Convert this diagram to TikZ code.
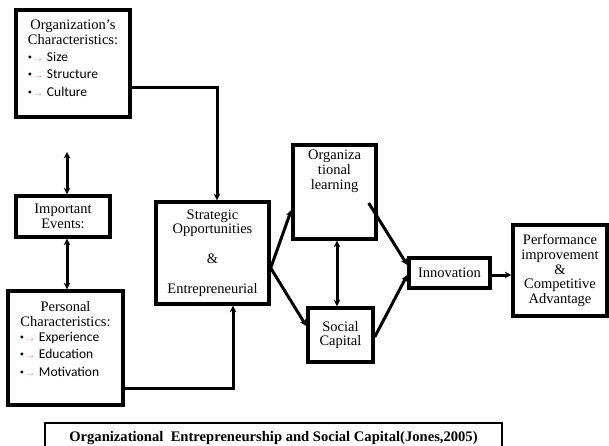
\documentclass[tikz,border=0pt]{standalone}
\usepackage{fontspec}
\setmainfont{Liberation Serif}
\setsansfont{Carlito}
\usepackage{xcolor}
\usetikzlibrary{arrows.meta,positioning,calc}
\newcommand{\bitem}[1]{{\rmfamily\large\textbullet}\hspace{2pt}{\color{magenta!60}$\scriptscriptstyle\rightarrow$}\hspace{5pt}#1}

\begin{document}
\begin{tikzpicture}[x=1pt, y=-1pt, >={Stealth[length=6.5pt,width=6.5pt]}, line width=3pt]

	\tikzset{
		tnode/.style = {rectangle, draw, line width=3.4pt, inner sep=0pt, align=center,
			font=\fontsize{14.5}{14.8}\selectfont},
		ttext/.style = {align=center, inner sep=0pt, font=\fontsize{14.5}{14.8}\selectfont},
		tlist/.style = {align=left, inner sep=0pt, font=\sffamily\fontsize{13.5}{17.5}\selectfont}
	}

	\clip (0,0) rectangle (609,446);

	% left column
	\node[tnode, minimum width=114, minimum height=107] (orgc) at (73,63.5) {};
	\node[ttext, anchor=north] (orgchead) at ([yshift=-10pt]orgc.north) {Organization’s\\Characteristics:};
	\node[tlist, anchor=north west] (orgclist) at ([xshift=12pt, yshift=-42pt]orgc.north west)
		{\bitem{Size}\\ \bitem{Structure}\\ \bitem{Culture}};

	\node[tnode, minimum width=94, minimum height=41] (events) at (63,216.5) {Important\\Events:};

	\node[tnode, minimum width=115, minimum height=114] (pers) at (65.5,348) {};
	\node[ttext, anchor=north] (pershead) at ([yshift=-11pt]pers.north) {Personal\\Characteristics:};
	\node[tlist, anchor=north west] (perslist) at ([xshift=12pt, yshift=-41pt]pers.north west)
		{\bitem{Experience}\\ \bitem{Education}\\ \bitem{Motivation}};

	% middle
	\node[tnode, minimum width=113, minimum height=102] (strat) at (212.5,253)
		{Strategic\\Opportunities\\[15pt]\&\\[15pt]Entrepreneurial};

	\node[tnode, minimum width=83, minimum height=94] (learn) at (334.5,192) {};
	\node[ttext, anchor=north] (learntext) at ([yshift=-5pt]learn.north) {Organiza\\tional\\learning};

	\node[tnode, minimum width=65, minimum height=54] (social) at (340.5,335) {Social\\Capital};

	% right
	\node[tnode, minimum width=81, minimum height=30] (innov) at (449.5,273) {Innovation};
	\node[tnode, minimum width=94, minimum height=91] (perf) at (560,270.5)
		{Performance\\improvement\\\&\\Competitive\\Advantage};

	% caption
	\node[draw, line width=1.4pt, minimum width=457, minimum height=30, inner sep=0pt,
		font=\bfseries\fontsize{14.6}{16}\selectfont] (caption) at (273.5,438)
		{\raisebox{3pt}{Organizational\ \ Entrepreneurship and Social Capital(Jones,2005)}};

	\coordinate (topfree) at (67,152);

	\draw[->] ([yshift=-24.5pt]orgc.east) -| ([xshift=4.5pt]strat.north);
	\draw[<->] (topfree) -- (topfree |- events.north);
	\draw[<->] ([xshift=4pt]events.south) -- ([xshift=4pt]events.south |- pers.north);
	\draw[->] ([yshift=-40pt]pers.east) -| ([xshift=20.5pt]strat.south);

	\draw[->] ([yshift=-15pt]strat.east) -- ([yshift=-18pt]learn.west);
	\draw[->] ([yshift=-15pt]strat.east) -- ([yshift=9pt]social.west);
	\draw[<->] ([xshift=2.5pt]learn.south) -- ([xshift=2.5pt]learn.south |- social.north);
	\draw[->] ([xshift=-9pt, yshift=-11pt]learn.east) -- ([yshift=8pt]innov.west);
	\draw[->] ([yshift=-2pt]social.east) -- ([yshift=-2pt]innov.west);
	\draw[->] ([yshift=-2pt]innov.east) -- ([yshift=-2pt]innov.east -| perf.west);

\end{tikzpicture}
\end{document}
